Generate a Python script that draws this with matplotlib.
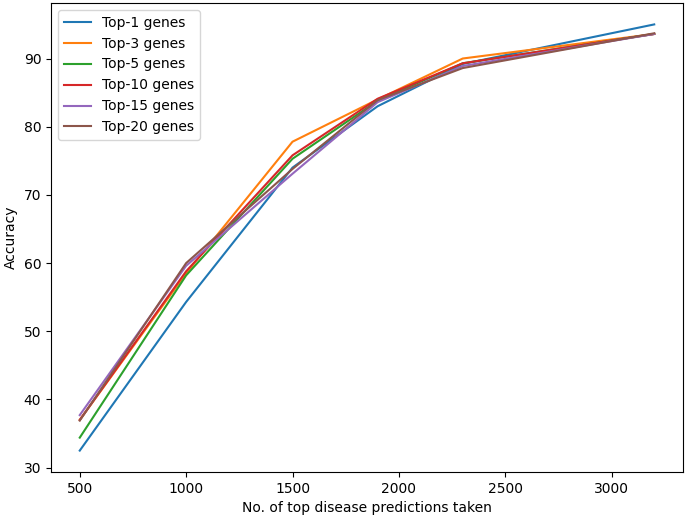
import matplotlib
matplotlib.use("Agg")
import matplotlib.pyplot as plt

x_values = [500, 1000, 1500, 1900, 2300, 3200]
top1 = [32.5, 54.3, 74.0, 83.0, 89.2, 95.0]
top3 = [37.0, 58.5, 77.8, 84.0, 90.0, 93.6]
top5 = [34.4, 58.2, 75.3, 83.8, 89.3, 93.6]
top10 = [37.0, 58.8, 75.8, 84.1, 89.3, 93.6]
top15 = [37.7, 59.6, 73.1, 83.6, 88.9, 93.6]
top20 = [36.9, 60.0, 73.8, 83.9, 88.6, 93.7]
labels = ["Top-1 genes", "Top-3 genes", "Top-5 genes",
          "Top-10 genes", "Top-15 genes", "Top-20 genes"]
series = [top1, top3, top5, top10, top15, top20]

fig = plt.figure(figsize=(6.85, 5.18), dpi=100)
ax = fig.add_axes([0.0745, 0.089, 0.9225, 0.905])
for s, lab in zip(series, labels):
    ax.plot(x_values, s, label=lab)
ax.set_xlabel("No. of top disease predictions taken")
ax.set_ylabel("Accuracy")
ax.legend(loc="upper left")
fig.savefig("out.png", dpi=100)
